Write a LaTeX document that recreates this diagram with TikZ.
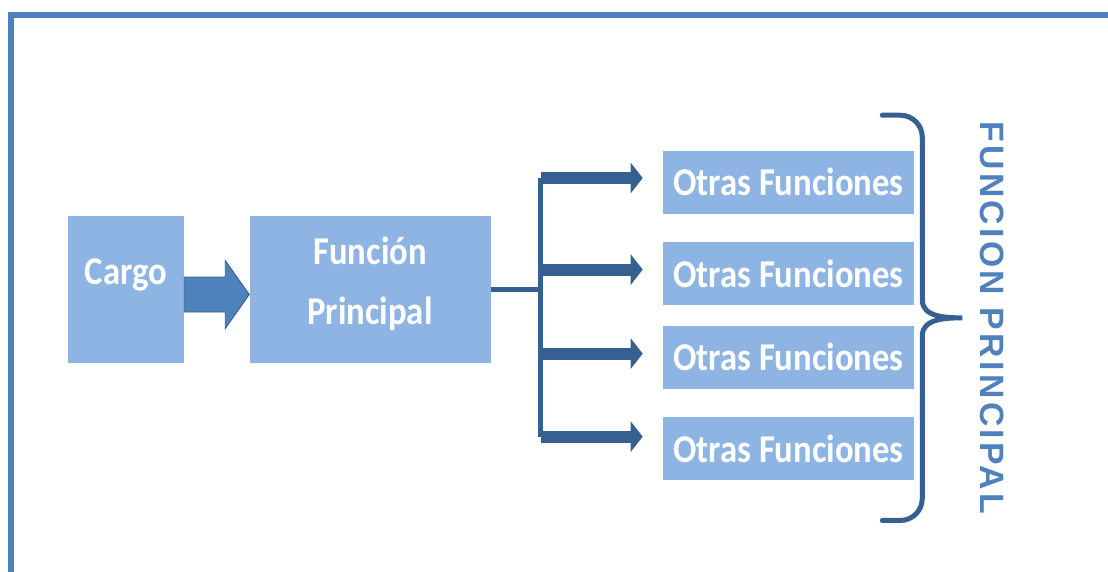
\documentclass[tikz,border=0pt]{standalone}
\usepackage{fontspec}
\setmainfont{Carlito}
\newfontfamily\cajafont[FakeStretch=0.88]{Carlito}
\newfontfamily\titulofont[LetterSpace=10]{Liberation Sans}
\usetikzlibrary{positioning,calc,arrows.meta}

\definecolor{cajaazul}{HTML}{8DB4E2}
\definecolor{azulmedio}{HTML}{4F81BD}
\definecolor{azulborde}{HTML}{385D8A}
\definecolor{azulosc}{HTML}{376092}

\begin{document}
\begin{tikzpicture}[
    caja/.style={rectangle, fill=cajaazul, inner sep=0pt, minimum height=3.675cm, text=white, align=center,
        font=\cajafont\bfseries\fontsize{28}{42.7}\selectfont},
    otra/.style={caja, minimum width=6.275cm, minimum height=1.575cm},
    rama/.style={-{Triangle[length=0.3cm, width=0.75cm]}, line width=0.3cm, azulosc, shorten >=0.5cm},
    tronco/.style={line width=0.125cm, azulosc},
    bloque/.style={fill=azulmedio, draw=azulborde, line width=0.6pt},
    llave/.style={line width=0.125cm, azulosc, line cap=round},
    titulo/.style={font=\titulofont\bfseries\fontsize{24}{28}\selectfont, text=azulmedio, inner sep=0pt},
]
\clip (0,0) rectangle (27.7,-14.275);

% ---- marco ----
\draw[azulmedio, line width=0.15cm] (0.275,-15) -- (0.275,-0.3625) -- (28,-0.3625);

% ---- cargo y funcion principal ----
\node[caja, minimum width=2.9cm, text depth=0.9cm] (cargo) at (3.15,-7.2375) {Cargo};
\node[caja, minimum width=6.025cm, text depth=0.45cm, right=1.625cm of cargo] (funcion) {Función\\Principal};

\draw[bloque] ($(cargo.east)+(0,0.3125)$) -- ++(1.025,0) -- ++(0,0.4125)
    -- ($(funcion.west)+(0,-0.125)$) -- ($(cargo.east)+(1.025,-0.975)$)
    -- ++(0,0.4125) -- ($(cargo.east)+(0,-0.5625)$) -- cycle;

% ---- otras funciones ----
\node[otra] (o1) at (19.7125,-4.55) {Otras Funciones};
\node[otra, below=0.7cm of o1] (o2) {Otras Funciones};
\node[otra, below=0.5cm of o2] (o3) {Otras Funciones};
\node[otra, below=0.7cm of o3] (o4) {Otras Funciones};

% ---- ramas ----
\coordinate[right=1.25cm of funcion.east] (split);
\draw[tronco] (funcion.east) -- (split);
\draw[tronco] ($(split |- o1.west)+(0,0.1)$) -- ($(split |- o4.west)+(0,0.3)$);
\foreach \i/\dy in {1/0.1, 2/0.1, 3/0.0875, 4/0.3}
  \draw[rama] ($(split |- o\i.west)+(0,\dy)$) -- ($(o\i.west)+(0,\dy)$);

% ---- llave ----
\coordinate (bt) at ($(o1.north east)+(-0.8,0.875)$);
\coordinate (bb) at ($(o4.south east)+(-0.8,-1)$);
\coordinate (pk) at ($(bt)!0.5!(bb)+(2,0)$);
\draw[llave] (bt) -- ++(0.45,0) to[out=0,in=90] ($(bt)+(1,-0.55)$)
    -- ($(pk)+(-1,0.45)$) to[out=-90,in=180] (pk)
    to[out=180,in=90] ($(pk)+(-1,-0.45)$)
    -- ($(bb)+(1,0.55)$) to[out=-90,in=0] ($(bb)+(0.45,0)$) -- (bb);

\node[titulo, rotate=-90, anchor=south] (titulo) at ($(pk)+(0.45,0)$) {FUNCION PRINCIPAL};

\end{tikzpicture}
\end{document}
